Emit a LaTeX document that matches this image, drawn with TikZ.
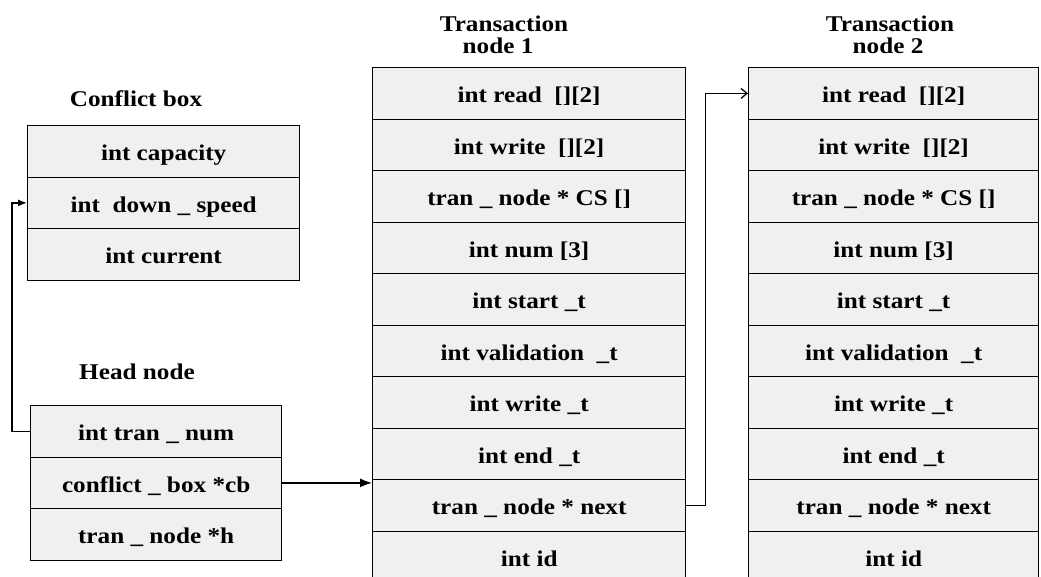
\documentclass[tikz,border=0pt]{standalone}
\usepackage{fontspec}
\setmainfont{Liberation Serif}
\newfontfamily\widebold[FakeStretch=1.12]{Liberation Serif Bold}
\usetikzlibrary{arrows.meta}
\begin{document}
\begin{tikzpicture}[x=1pt,y=-1pt,
  field/.style={draw, fill=black!6, line width=1.3pt, minimum height=51.5pt,
    inner sep=0pt, text height=19pt, text depth=0pt, anchor=north west,
    font=\widebold\fontsize{22.5}{24}\selectfont},
  title/.style={font=\widebold\fontsize{22.5}{24}\selectfont, inner sep=0pt, anchor=base},
  link/.style={line width=1.3pt}]
\clip (0,0) rectangle (1041,576);

% struct conflict_box
\node[title] (cbt) at (136,106.5) {Conflict box};
\foreach \t [count=\i] in {{int capacity},{int\ \ down \_ speed},{int current}}
  \node[field, minimum width=272pt] (c-\i) at (27,{125+51.5*(\i-1)}) {\t};

% head node
\node[title] (hdt) at (137,379) {Head node};
\foreach \t [count=\i] in {{int tran \_ num},{conflict \_ box *cb},{tran \_ node *h}}
  \node[field, minimum width=251pt] (h-\i) at (30,{405+51.5*(\i-1)}) {\t};

% transaction nodes
\node[title] (t1a) at (504,31) {Transaction};
\node[title] (t1b) at (498,53) {node 1};
\node[title] (t2a) at (890,31) {Transaction};
\node[title] (t2b) at (888,53) {node 2};
\foreach \t [count=\i] in {{int read\ \ [][2]},{int write\ \ [][2]},{tran \_ node * CS []},
    {int num [3]},{int start \_t},{int validation\ \ \_t},{int write \_t},{int end \_t},
    {tran \_ node * next},{int id}}{
  \node[field, minimum width=313pt] (t1-\i) at (372,{67+51.5*(\i-1)}) {\t};
  \node[field, minimum width=290pt] (t2-\i) at (748,{67+51.5*(\i-1)}) {\t};
}

% pointers
\draw[link, -{Latex[length=9pt,width=7pt]}] (h-1.west) -- ++(-18,0) |- (c-2.west);
\draw[link, -{Latex[length=12pt,width=9pt]}] (h-2.east) -- (h-2.east -| t1-1.west);
\draw[link, -{Straight Barb[length=6pt,width=10pt]}] (t1-9.east) -- ++(19,0) |- (t2-1.west);
\end{tikzpicture}
\end{document}
